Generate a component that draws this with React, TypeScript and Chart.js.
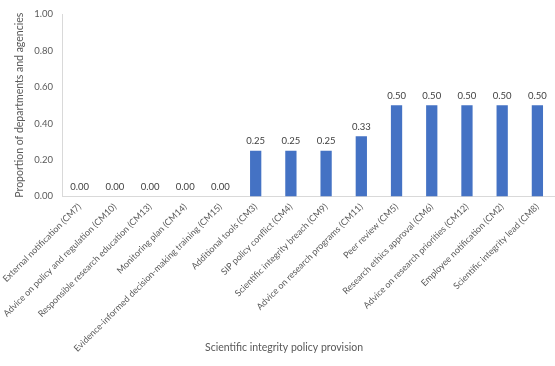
import React, { useEffect, useRef } from "react";
import { Chart, registerables } from "chart.js";

Chart.register(...registerables);

const categories = [
  "External notification (CM7)",
  "Advice on policy and regulation (CM10)",
  "Responsible research education (CM13)",
  "Monitoring plan (CM14)",
  "Evidence-informed decision-making training (CM15)",
  "Additional tools (CM3)",
  "SIP policy conflict (CM4)",
  "Scientific integrity breach (CM9)",
  "Advice on research programs (CM11)",
  "Peer review (CM5)",
  "Research ethics approval (CM6)",
  "Advice on research priorities (CM12)",
  "Employee notification (CM2)",
  "Scientific integrity lead (CM8)",
];

const values = [0, 0, 0, 0, 0, 0.25, 0.25, 0.25, 0.33, 0.5, 0.5, 0.5, 0.5, 0.5];

const yTicks = [0, 0.2, 0.4, 0.6, 0.8, 1.0];

const FONT = "Lato, 'Open Sans', sans-serif";
const TEXT = "#595959";

const valueLabels = {
  id: "valueLabels",
  afterDatasetsDraw(chart: any) {
    const ctx = chart.ctx;
    const meta = chart.getDatasetMeta(0);
    ctx.save();
    ctx.font = `9.5px ${FONT}`;
    ctx.fillStyle = "#404040";
    ctx.textAlign = "center";
    ctx.textBaseline = "bottom";
    meta.data.forEach((bar: any, i: number) => {
      ctx.fillText(values[i].toFixed(2), bar.x, bar.y - 5);
    });
    ctx.restore();
  },
};

export default function App() {
  const ref = useRef<HTMLCanvasElement | null>(null);

  useEffect(() => {
    if (!ref.current) return;
    const chart = new Chart(ref.current, {
      type: "bar",
      data: {
        labels: categories,
        datasets: [
          {
            data: values,
            backgroundColor: "#4472C4",
            barPercentage: 0.32,
            categoryPercentage: 1,
          },
        ],
      },
      options: {
        animation: false,
        responsive: false,
        maintainAspectRatio: false,
        layout: { padding: { top: 14, left: 13, right: 0, bottom: 12 } },
        plugins: {
          legend: { display: false },
          tooltip: { enabled: false },
          title: {
            display: true,
            position: "bottom",
            text: "Scientific integrity policy provision",
            color: TEXT,
            font: { family: FONT, size: 10.5, weight: "normal" },
            padding: { top: -12, bottom: 0 },
          },
        },
        scales: {
          x: {
            grid: { display: false, drawTicks: false },
            border: { display: true, color: "#D9D9D9" },
            ticks: {
              color: TEXT,
              font: { family: FONT, size: 9 },
              minRotation: 45,
              maxRotation: 45,
              autoSkip: false,
              padding: 5,
            },
            afterFit(scale: any) {
              scale.height = 157;
              scale.paddingLeft = 0;
              scale.paddingRight = 0;
            },
          },
          y: {
            min: 0,
            max: 1,
            afterBuildTicks(scale: any) {
              scale.ticks = yTicks.map((v) => ({ value: v }));
            },
            grid: { display: false, drawTicks: false },
            border: { display: true, color: "#D9D9D9" },
            ticks: {
              color: TEXT,
              font: { family: FONT, size: 9.5 },
              padding: 9,
              callback: (v: any) => Number(v).toFixed(2),
            },
            title: {
              display: true,
              text: "Proportion of departments and agencies",
              color: TEXT,
              font: { family: FONT, size: 10.5 },
              padding: { top: 0, bottom: 0 },
            },
            afterFit(scale: any) {
              scale.width = 49;
              scale.paddingTop = 0;
              scale.paddingBottom = 0;
            },
          },
        },
      },
      plugins: [valueLabels],
    });
    return () => chart.destroy();
  }, []);

  return (
    <div style={{ position: "fixed", left: 0, top: 0, width: 555, height: 366, background: "#fff" }}>
      <canvas ref={ref} width={555} height={366} style={{ display: "block" }} />
    </div>
  );
}
